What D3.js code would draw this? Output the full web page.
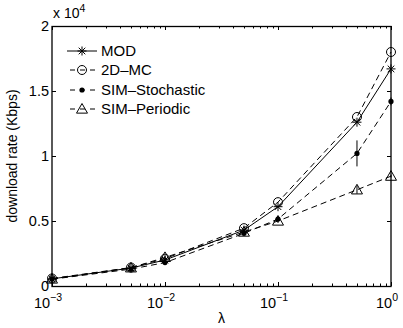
<!DOCTYPE html>
<html>
<head>
<meta charset="utf-8">
<script src="https://cdn.jsdelivr.net/npm/d3@7"></script>
<style>
  body { margin: 0; background: #fff; }
  text { font-family: "Liberation Sans", Arial, sans-serif; fill: #000; }
</style>
</head>
<body>
<svg id="svg"></svg>
<script>
// arrival rate lambda
const lambdas = [0.001, 0.005, 0.01, 0.05, 0.1, 0.5, 1];

// download rate, Kbps
const modValues = [550, 1380, 2000, 4300, 6100, 12600, 16700];
const mcValues = [580, 1420, 2100, 4450, 6450, 13000, 18000];
const stochValues = [520, 1300, 1800, 4050, 5150, 10200, 14200];
const periodicValues = [540, 1400, 2200, 4150, 5000, 7400, 8450];

// error bar half-heights
const stochErr = [60, 80, 150, 150, 150, 1000, 300];
const periodicErr = [40, 60, 150, 100, 150, 300, 100];

const seriesNames = ['MOD', '2D\u2013MC', 'SIM\u2013Stochastic', 'SIM\u2013Periodic'];
const yTicks = [0, 5000, 10000, 15000, 20000];
const yTickLabels = ['0', '0.5', '1', '1.5', '2'];
const xTicks = [0.001, 0.01, 0.1, 1];

const W = 403, H = 328;
const m = { left: 52, right: 12, top: 26, bottom: 42 };

const svg = d3.select('#svg').attr('width', W).attr('height', H);

const x = d3.scaleLog().domain([0.001, 1]).range([m.left, W - m.right]);
const y = d3.scaleLinear().domain([0, 20000]).range([H - m.bottom, m.top]);

const x0 = m.left, x1 = W - m.right, y0 = H - m.bottom, y1 = m.top;

// ticks (inside, both sides)
const axisG = svg.append('g').attr('stroke', '#000').attr('stroke-width', 1);
const minor = [];
for (let e = -3; e < 0; e++) {
  for (let k = 2; k <= 9; k++) minor.push(k * Math.pow(10, e));
}
minor.forEach(function (v) {
  const px = Math.round(x(v)) + 0.5;
  axisG.append('line').attr('x1', px).attr('x2', px).attr('y1', y0).attr('y2', y0 - 2.5);
  axisG.append('line').attr('x1', px).attr('x2', px).attr('y1', y1).attr('y2', y1 + 2.5);
});
xTicks.forEach(function (v) {
  const px = Math.round(x(v)) + 0.5;
  axisG.append('line').attr('x1', px).attr('x2', px).attr('y1', y0).attr('y2', y0 - 4);
  axisG.append('line').attr('x1', px).attr('x2', px).attr('y1', y1).attr('y2', y1 + 4);
});
yTicks.forEach(function (v) {
  const py = Math.round(y(v)) + 0.5;
  axisG.append('line').attr('x1', x0).attr('x2', x0 + 4).attr('y1', py).attr('y2', py);
  axisG.append('line').attr('x1', x1).attr('x2', x1 - 4).attr('y1', py).attr('y2', py);
});

// tick labels
xTicks.forEach(function (v) {
  const e = Math.round(Math.log10(v));
  const t = svg.append('text')
    .attr('x', x(v) - 4)
    .attr('y', y0 + 22)
    .attr('text-anchor', 'middle')
    .attr('font-size', 14.5);
  t.append('tspan').text('10');
  t.append('tspan').attr('dy', -7).attr('font-size', 10.5).text(e === 0 ? '0' : '\u2212' + (-e));
});
yTicks.forEach(function (v, i) {
  svg.append('text')
    .attr('x', x0 - 3)
    .attr('y', y(v) + 5)
    .attr('text-anchor', 'end')
    .attr('font-size', 14.5)
    .text(yTickLabels[i]);
});

// exponent label
const ex = svg.append('text').attr('x', x0 + 1).attr('y', 18).attr('font-size', 14);
ex.append('tspan').text('x 10');
ex.append('tspan').attr('dy', -6).attr('font-size', 10.5).text('4');

// axis titles
svg.append('text')
  .attr('x', (x0 + x1) / 2)
  .attr('y', H - 5)
  .attr('text-anchor', 'middle')
  .attr('font-size', 14)
  .text('\u03bb');
svg.append('text')
  .attr('transform', 'translate(17,' + ((y0 + y1) / 2) + ') rotate(-90)')
  .attr('text-anchor', 'middle')
  .attr('font-size', 14)
  .text('download rate (Kbps)');

// box
svg.append('rect')
  .attr('x', x0).attr('y', y1 + 0.5)
  .attr('width', x1 - x0).attr('height', y0 - y1)
  .attr('fill', 'none').attr('stroke', '#000').attr('stroke-width', 1.3);

// markers
function drawMarker(g, type, cx, cy) {
  if (type === 'star') {
    const r = 4.5, d = 3.3;
    g.append('path')
      .attr('d', 'M' + (cx - r) + ',' + cy + 'H' + (cx + r) +
        'M' + cx + ',' + (cy - r) + 'V' + (cy + r) +
        'M' + (cx - d) + ',' + (cy - d) + 'L' + (cx + d) + ',' + (cy + d) +
        'M' + (cx - d) + ',' + (cy + d) + 'L' + (cx + d) + ',' + (cy - d))
      .attr('stroke', '#000').attr('stroke-width', 1).attr('fill', 'none');
  } else if (type === 'circle') {
    g.append('circle').attr('cx', cx).attr('cy', cy).attr('r', 4.5)
      .attr('fill', 'none').attr('stroke', '#000').attr('stroke-width', 1);
  } else if (type === 'dot') {
    g.append('circle').attr('cx', cx).attr('cy', cy).attr('r', 2.6)
      .attr('fill', '#000');
  } else if (type === 'tri') {
    const s = 5.5;
    g.append('path')
      .attr('d', 'M' + cx + ',' + (cy - s) + 'L' + (cx + s) + ',' + (cy + s * 0.75) +
        'L' + (cx - s) + ',' + (cy + s * 0.75) + 'Z')
      .attr('fill', 'none').attr('stroke', '#000').attr('stroke-width', 1);
  }
}

const series = [
  { values: modValues, err: null, dash: null, marker: 'star' },
  { values: mcValues, err: null, dash: '6,4', marker: 'circle' },
  { values: stochValues, err: stochErr, dash: '6,4', marker: 'dot' },
  { values: periodicValues, err: periodicErr, dash: '6,4', marker: 'tri' }
];

const line = d3.line()
  .x(function (d) { return x(d[0]); })
  .y(function (d) { return y(d[1]); });

series.forEach(function (s) {
  const g = svg.append('g');
  const pts = lambdas.map(function (l, i) { return [l, s.values[i]]; });
  g.append('path')
    .attr('d', line(pts))
    .attr('fill', 'none')
    .attr('stroke', '#000')
    .attr('stroke-width', 1)
    .attr('stroke-dasharray', s.dash);
  if (s.err) {
    lambdas.forEach(function (l, i) {
      g.append('line')
        .attr('x1', x(l)).attr('x2', x(l))
        .attr('y1', y(s.values[i] - s.err[i]))
        .attr('y2', y(s.values[i] + s.err[i]))
        .attr('stroke', '#000').attr('stroke-width', 1);
    });
  }
  pts.forEach(function (p) { drawMarker(g, s.marker, x(p[0]), y(p[1])); });
});

// legend
const leg = svg.append('g');
const legY = [51, 70, 90, 109];
series.forEach(function (s, i) {
  const ly = legY[i];
  leg.append('line')
    .attr('x1', 67).attr('x2', 97).attr('y1', ly).attr('y2', ly)
    .attr('stroke', '#000').attr('stroke-width', 1)
    .attr('stroke-dasharray', s.dash ? '5,5' : null)
    .attr('stroke-dashoffset', s.dash ? -3 : null);
  drawMarker(leg, s.marker, 82, ly);
  leg.append('text')
    .attr('x', 101).attr('y', ly + 5)
    .attr('font-size', 15)
    .text(seriesNames[i]);
});
</script>
</body>
</html>
